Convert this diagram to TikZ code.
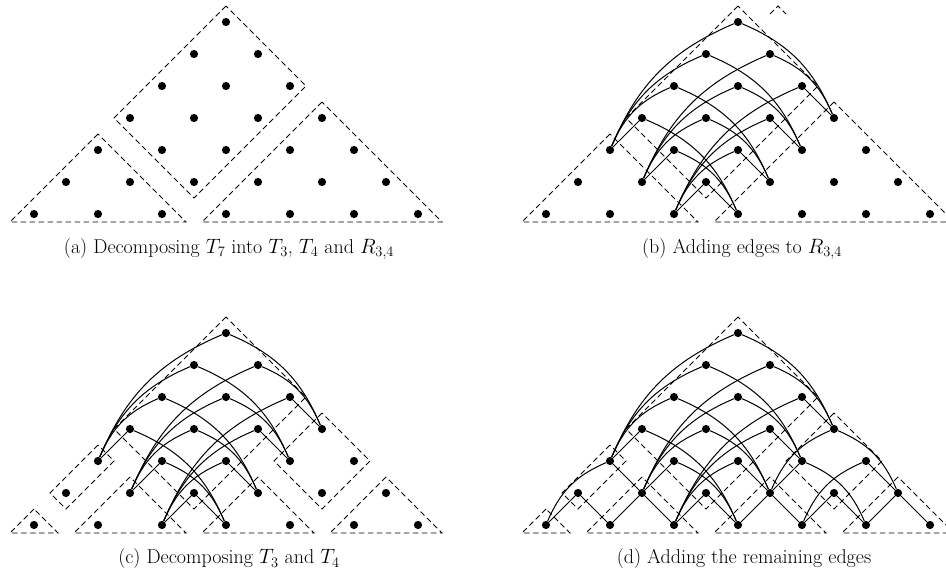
\documentclass[tikz,border=0pt]{standalone}
\usepackage{amsmath}
\begin{document}
\begin{tikzpicture}[x=1pt,y=-1pt,
  dot/.style={circle,fill=black,inner sep=0pt,minimum size=8.2pt},
  outline/.style={line width=0.9pt,dash pattern=on 5.5pt off 3.5pt},
  edge/.style={line width=1pt},
  caption/.style={font=\fontsize{20}{24}\selectfont,anchor=center,inner sep=0pt}]
\clip (0,0) rectangle (946,587);
% ---------- helpers ----------
\newcommand\dotsgrid[1]{%
  \foreach \ia in {0,...,6}{\foreach \ib in {0,...,6}{%
    \pgfmathtruncatemacro\isum{\ia+\ib}%
    \ifnum\isum<7 \node[dot] (#1-\ia-\ib) at (\ia,\ib) {};\fi}}}
\newcommand\tri[3]{% apex a, apex b, size
  \draw[outline] (#1-0.25,#2-0.25) -- (#1+#3-0.5,#2-0.25) -- (#1-0.25,#2+#3-0.5) -- cycle;}
\newcommand\rect[4]{% amin amax bmin bmax
  \draw[outline] (#1-0.25,#3-0.25) -- (#2+0.25,#3-0.25) -- (#2+0.25,#4+0.25) -- (#1-0.25,#4+0.25) -- cycle;}
\newcommand\redges[5]{% panel amin amax bmin bmax
  \pgfmathtruncatemacro\ta{#3+1}%
  \pgfmathtruncatemacro\tb{#5+1}%
  \foreach \ia in {#2,...,#3}{\foreach \ib in {#4,...,#5}{%
    \pgfmathtruncatemacro\da{\ta-\ia}%
    \pgfmathtruncatemacro\db{\tb-\ib}%
    \ifnum\da=1 \draw[edge] (#1-\ia-\ib) -- (#1-\ta-\ib);%
    \else \draw[edge] (#1-\ia-\ib) to[bend right=22] (#1-\ta-\ib);\fi
    \ifnum\db=1 \draw[edge] (#1-\ia-\ib) -- (#1-\ia-\tb);%
    \else \draw[edge] (#1-\ia-\ib) to[bend left=22] (#1-\ia-\tb);\fi}}}
% ---------- panel (a) ----------
\begin{scope}[shift={(226,22)},x={(-32pt,-32pt)},y={(32pt,-32pt)}]
  \dotsgrid{A}
  \rect{0}{3}{0}{2}
  \tri{4}{0}{3}
  \tri{0}{3}{4}
\end{scope}
% ---------- panel (b) ----------
\begin{scope}[shift={(738,22)},x={(-32pt,-32pt)},y={(32pt,-32pt)}]
  \dotsgrid{B}
  \rect{0}{3}{0}{2}
  \tri{4}{0}{3}
  \tri{0}{3}{4}
  \redges{B}{0}{3}{0}{2}
\end{scope}
\draw[outline] (770,14) -- (778,6) -- (786,14);
% ---------- panel (c) ----------
\begin{scope}[shift={(226,333)},x={(-32pt,-32pt)},y={(32pt,-32pt)}]
  \dotsgrid{C}
  \rect{0}{3}{0}{2}
  \rect{4}{5}{0}{0}
  \tri{6}{0}{1}
  \tri{4}{1}{2}
  \rect{0}{1}{3}{4}
  \tri{2}{3}{2}
  \tri{0}{5}{2}
  \redges{C}{0}{3}{0}{2}
\end{scope}
% ---------- panel (d) ----------
\begin{scope}[shift={(738,333)},x={(-32pt,-32pt)},y={(32pt,-32pt)}]
  \dotsgrid{D}
  \rect{0}{3}{0}{2}
  \rect{4}{5}{0}{0}
  \tri{6}{0}{1}
  \tri{4}{1}{2}
  \rect{0}{1}{3}{4}
  \tri{2}{3}{2}
  \tri{0}{5}{2}
  \redges{D}{0}{3}{0}{2}
  \redges{D}{4}{5}{0}{0}
  \redges{D}{4}{4}{1}{1}
  \redges{D}{0}{1}{3}{4}
  \redges{D}{2}{2}{3}{3}
  \redges{D}{0}{0}{5}{5}
\end{scope}
% ---------- captions ----------
\node[caption] (capa) at (229,249) {(a) Decomposing $T_7$ into $T_3$, $T_4$ and $R_{3,4}$};
\node[caption] (capb) at (742,249) {(b) Adding edges to $R_{3,4}$};
\node[caption] (capc) at (229,559) {(c) Decomposing $T_3$ and $T_4$};
\node[caption] (capd) at (744,559) {(d) Adding the remaining edges};
\end{tikzpicture}
\end{document}
